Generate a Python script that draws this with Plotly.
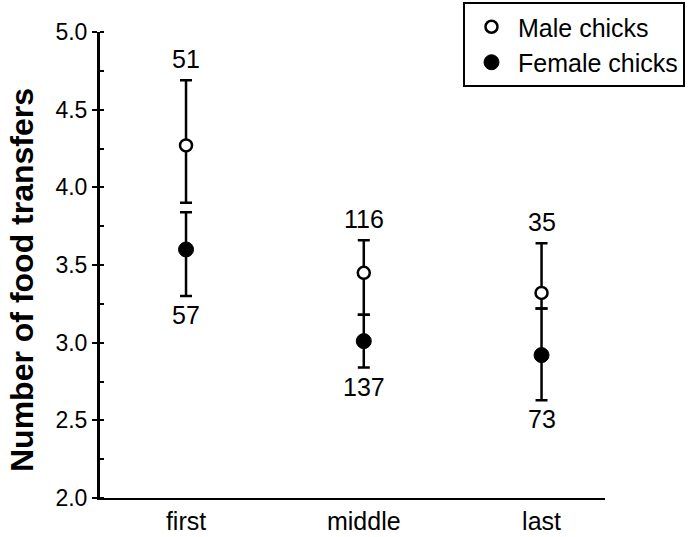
import plotly.graph_objects as go

categories = ["first", "middle", "last"]
male_mean = [4.27, 3.45, 3.32]
male_upper = [4.69, 3.66, 3.64]
male_lower = [3.90, 3.18, 3.22]
female_mean = [3.60, 3.01, 2.92]
female_upper = [3.84, 3.18, 3.22]
female_lower = [3.30, 2.84, 2.63]
male_n = ["51", "116", "35"]
female_n = ["57", "137", "73"]
yticks = [2.0, 2.5, 3.0, 3.5, 4.0, 4.5, 5.0]

FONT = "Liberation Sans, Arial, Helvetica, sans-serif"
W, H = 689, 537
ML, MR, MT, MB = 100, 84, 32, 39
PW, PH = W - ML - MR, H - MT - MB

fig = go.Figure()

fig.add_trace(go.Scatter(
    x=categories, y=female_mean, mode="markers", name="Female chicks",
    marker=dict(symbol="circle", size=15, color="black", line=dict(color="black", width=1)),
    error_y=dict(type="data", symmetric=False,
                 array=[u - m for u, m in zip(female_upper, female_mean)],
                 arrayminus=[m - l for l, m in zip(female_lower, female_mean)],
                 color="black", thickness=2.5, width=6),
))
fig.add_trace(go.Scatter(
    x=categories, y=male_mean, mode="markers", name="Male chicks",
    marker=dict(symbol="circle", size=12, color="white", line=dict(color="black", width=2.5)),
    error_y=dict(type="data", symmetric=False,
                 array=[u - m for u, m in zip(male_upper, male_mean)],
                 arrayminus=[m - l for l, m in zip(male_lower, male_mean)],
                 color="black", thickness=2.5, width=6),
))

for c, u, t in zip(categories, male_upper, male_n):
    fig.add_annotation(x=c, y=u, text=t, showarrow=False, yanchor="bottom", yshift=5,
                       font=dict(size=25, color="black", family=FONT))
for c, l, t in zip(categories, female_lower, female_n):
    fig.add_annotation(x=c, y=l, text=t, showarrow=False, yanchor="top", yshift=-3,
                       font=dict(size=25, color="black", family=FONT))

fig.add_annotation(xref="paper", yref="paper", x=(22 - ML) / PW, y=(H - MB - 280) / PH,
                   text="<b>Number of food transfers</b>", textangle=-90, showarrow=False,
                   xanchor="center", yanchor="middle",
                   font=dict(size=32, family=FONT, color="black"))

fig.update_layout(
    width=W, height=H,
    margin=dict(l=ML, r=MR, t=MT, b=MB, autoexpand=False),
    paper_bgcolor="white", plot_bgcolor="white",
    font=dict(family=FONT, color="black", size=20),
    showlegend=True,
    legend=dict(x=(463 - ML) / PW, y=1 + (MT - 2) / PH, xanchor="left", yanchor="top",
                traceorder="reversed",
                bordercolor="black", borderwidth=2, bgcolor="white",
                font=dict(size=25, family=FONT, color="black"),
                itemwidth=43, tracegroupgap=0, entrywidth=240),
    xaxis=dict(range=[-0.484, 2.357], showline=True, linecolor="black", linewidth=2,
               ticks="", showgrid=False, zeroline=False,
               tickfont=dict(size=25, family=FONT, color="black")),
    yaxis=dict(range=[2.0, 5.0], tickvals=yticks, ticktext=[f"{v:.1f}" for v in yticks],
               showline=True, linecolor="black", linewidth=3,
               ticks="outside", ticklen=5, tickwidth=2, tickcolor="black",
               minor=dict(dtick=0.25, ticks="inside", ticklen=4, tickwidth=1.5, tickcolor="black"),
               showgrid=False, zeroline=False,
               tickfont=dict(size=23, family=FONT, color="black")),
)

fig.write_html("out.html")
